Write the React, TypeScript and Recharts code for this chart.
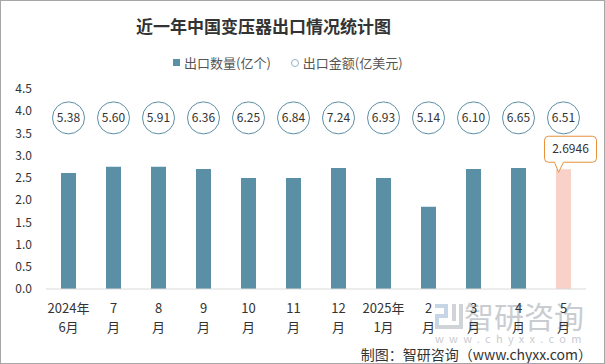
import { ComposedChart, Bar, Line, XAxis, YAxis, Cell, LabelList } from "recharts";

const months = ["2024年6月", "7月", "8月", "9月", "10月", "11月", "12月", "2025年1月", "2月", "3月", "4月", "5月"];
const exportQty = [2.61, 2.75, 2.75, 2.7, 2.5, 2.5, 2.72, 2.5, 1.85, 2.7, 2.72, 2.6946];
const exportAmount = [5.38, 5.6, 5.91, 6.36, 6.25, 6.84, 7.24, 6.93, 5.14, 6.1, 6.65, 6.51];
const yTicks = [0, 0.5, 1, 1.5, 2, 2.5, 3, 3.5, 4, 4.5];

const BAR_COLOR = "#5b8fa6";
const LAST_COLOR = "#f8d2c9";
const BUBBLE_ROW = 3.85; // where the amount bubbles sit on the y scale
const FONT = "'Noto Sans CJK SC', 'Noto Sans', sans-serif";

const data = months.map((m, i) => ({
  month: m,
  qty: exportQty[i],
  amount: exportAmount[i],
  row: BUBBLE_ROW,
}));

function MonthTick(props: any) {
  const { x, y, payload } = props;
  const v = String(payload.value);
  let top = v.replace("月", "");
  let bottom = "月";
  if (v.includes("年")) {
    const k = v.indexOf("年");
    top = v.slice(0, k + 1);
    bottom = v.slice(k + 1);
  }
  return (
    <g>
      <text x={x} y={y + 16} textAnchor="middle" fontSize={13} fill="#333" fontFamily={FONT}>{top}</text>
      <text x={x} y={y + 35} textAnchor="middle" fontSize={13} fill="#333" fontFamily={FONT}>{bottom}</text>
    </g>
  );
}

function Bubble(props: any) {
  const { cx, cy, payload, index } = props;
  if (cx == null || cy == null) return <g key={index} />;
  return (
    <g key={`b${index}`}>
      <circle cx={cx} cy={cy} r={16} fill="#fff" stroke={BAR_COLOR} strokeWidth={1} />
      <text x={cx} y={cy + 4} textAnchor="middle" fontSize={12} fill="#333" fontFamily={FONT}>
        {payload.amount.toFixed(2)}
      </text>
    </g>
  );
}

function Callout(props: any) {
  const { x, y, width, value, index } = props;
  if (index !== months.length - 1) return null;
  const cx = x + width / 2;
  const tipY = y + 3;
  const boxBottom = tipY - 10;
  const boxTop = boxBottom - 26;
  const left = cx - 19;
  const right = cx + 33;
  const r = 4;
  const path = [
    `M ${left + r} ${boxTop}`,
    `L ${right - r} ${boxTop}`,
    `Q ${right} ${boxTop} ${right} ${boxTop + r}`,
    `L ${right} ${boxBottom - r}`,
    `Q ${right} ${boxBottom} ${right - r} ${boxBottom}`,
    `L ${cx} ${boxBottom}`,
    `L ${cx - 5} ${tipY}`,
    `L ${cx - 9} ${boxBottom}`,
    `L ${left + r} ${boxBottom}`,
    `Q ${left} ${boxBottom} ${left} ${boxBottom - r}`,
    `L ${left} ${boxTop + r}`,
    `Q ${left} ${boxTop} ${left + r} ${boxTop}`,
    "Z",
  ].join(" ");
  return (
    <g>
      <path d={path} fill="#fff" stroke="#e8913a" strokeWidth={1} />
      <text x={(left + right) / 2} y={boxTop + 17} textAnchor="middle" fontSize={12} fill="#333" fontFamily={FONT}>
        {Number(value).toFixed(4)}
      </text>
    </g>
  );
}

export default function App() {
  return (
    <div
      style={{
        position: "absolute",
        left: 0,
        top: 0,
        width: 605,
        height: 364,
        boxSizing: "border-box",
        border: "1px solid #a6a6a6",
        background: "#fff",
        fontFamily: FONT,
        overflow: "hidden",
      }}
    >
      {/* watermark sits behind the chart */}
      <div style={{ position: "absolute", left: 434, top: 300, color: "#c9cdd2", pointerEvents: "none" }}>
        <svg width={30} height={28} style={{ position: "absolute", left: 0, top: 3 }}>
          <rect x={0} y={0} width={13} height={4} fill="#c7d6e6" />
          <rect x={9} y={0} width={4} height={13} fill="#c7d6e6" />
          <rect x={0} y={10} width={13} height={4} fill="#c7d6e6" />
          <rect x={0} y={10} width={4} height={15} fill="#c7d6e6" />
          <rect x={0} y={21} width={28} height={4} fill="#d0d3d7" />
          <rect x={17} y={0} width={4} height={17} fill="#d0d3d7" />
          <rect x={24} y={0} width={4} height={25} fill="#d0d3d7" />
        </svg>
        <div style={{ position: "absolute", left: 29, top: -4, fontSize: 30, lineHeight: "36px", whiteSpace: "nowrap" }}>智研咨询</div>
        <div style={{ position: "absolute", left: 0, top: 31, fontSize: 11, letterSpacing: 5.3, lineHeight: "12px", whiteSpace: "nowrap" }}>www.chyxx.com</div>
      </div>

      <div style={{ position: "absolute", left: 0, top: 0 }}>
        <ComposedChart width={605} height={364} data={data} margin={{ top: 88, right: 20, bottom: 26, left: 0 }}>
          <XAxis
            dataKey="month"
            stroke="#d9d9d9"
            tickLine={false}
            interval={0}
            height={50}
            tick={<MonthTick />}
          />
          <YAxis
            domain={[0, 4.5]}
            ticks={yTicks}
            width={45}
            axisLine={false}
            tickLine={false}
            tickMargin={8}
            tick={{ fontSize: 12, fill: "#333", fontFamily: FONT }}
            tickFormatter={(v) => Number(v).toFixed(1)}
          />
          <Bar dataKey="qty" barSize={15} isAnimationActive={false}>
            {data.map((d, i) => (
              <Cell key={d.month} fill={i === data.length - 1 ? LAST_COLOR : BAR_COLOR} />
            ))}
            <LabelList dataKey="qty" content={<Callout />} />
          </Bar>
          <Line dataKey="row" stroke="none" dot={Bubble} activeDot={false} isAnimationActive={false} />
        </ComposedChart>
      </div>

      <div
        style={{
          position: "absolute",
          left: 0,
          width: 525,
          top: 12,
          textAlign: "center",
          fontSize: 17,
          fontWeight: "bold",
          color: "#333",
        }}
      >
        近一年中国变压器出口情况统计图
      </div>

      <div style={{ position: "absolute", top: 52, left: 172, fontSize: 13, color: "#555", display: "flex", alignItems: "center", whiteSpace: "nowrap" }}>
        <span style={{ display: "inline-block", width: 7, height: 7, background: BAR_COLOR, marginRight: 4 }} />
        <span>出口数量(亿个)</span>
        <span style={{ display: "inline-block", width: 6, height: 6, border: "1px solid #8fb3c4", borderRadius: "50%", marginLeft: 20, marginRight: 4 }} />
        <span>出口金额(亿美元)</span>
      </div>

      <div style={{ position: "absolute", right: 12, top: 343, fontSize: 14, color: "#333", whiteSpace: "nowrap" }}>
        制图：智研咨询（www.chyxx.com）
      </div>
    </div>
  );
}
